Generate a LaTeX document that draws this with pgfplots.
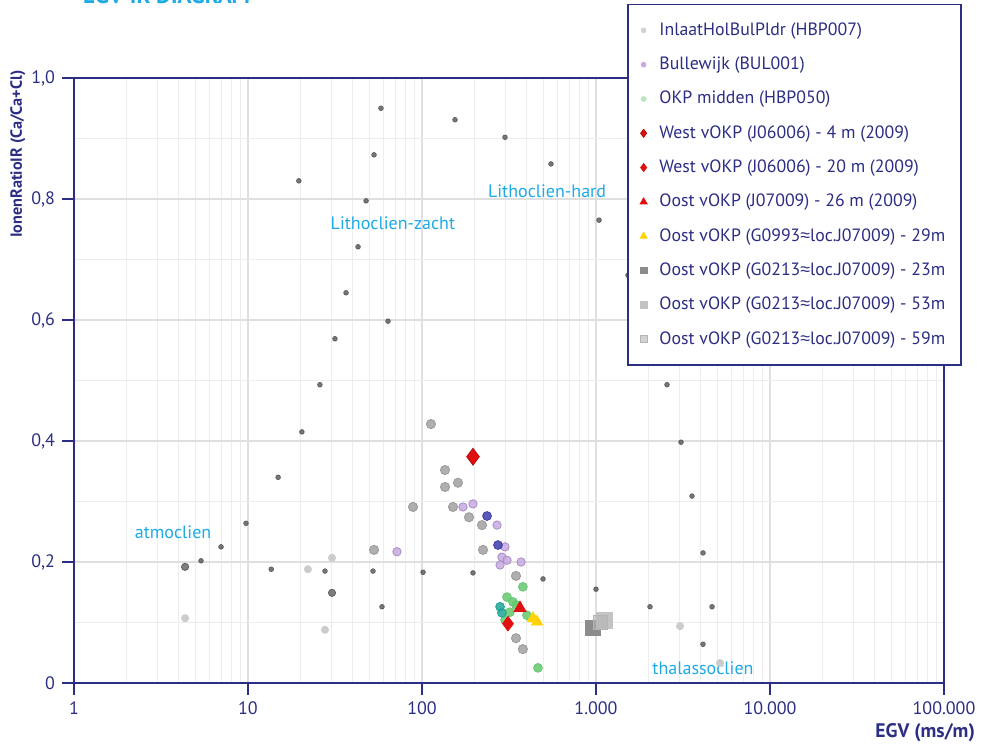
\documentclass[border=0pt]{standalone}
\usepackage{fontspec}
\setmainfont{PT Sans}
\newfontfamily\symfont{Liberation Sans}
\usepackage{pgfplots}
\pgfplotsset{compat=1.18}
\definecolor{navy}{RGB}{43,46,131}
\definecolor{cyantext}{RGB}{30,170,231}
\definecolor{refdot}{RGB}{95,95,95}
\definecolor{hbpgray}{RGB}{155,155,155}
\definecolor{lilac}{RGB}{200,170,222}
\definecolor{lilacdraw}{RGB}{170,140,205}
\definecolor{okpgreen}{RGB}{100,200,110}
\definecolor{tealc}{RGB}{30,165,150}
\definecolor{bluec}{RGB}{60,60,170}
\definecolor{redc}{RGB}{225,15,15}
\definecolor{yellowc}{RGB}{255,210,0}
\definecolor{sqdark}{RGB}{140,140,140}
\definecolor{sqlight}{RGB}{195,195,195}
\definecolor{sqmid}{RGB}{180,180,180}
\begin{document}
\begin{tikzpicture}
\begin{axis}[name=ax, at={(0,0)}, anchor=south west,
  scale only axis, width=435pt, height=302.5pt,
  xmode=log, log basis x=10, xmin=1, xmax=100000, ymin=0, ymax=1,
  xtick={1,10,100,1000,10000,100000},
  xticklabels={1,10,100,1.000,10.000,100.000},
  minor xtick={2,3,4,5,6,7,8,9,20,30,40,50,60,70,80,90,200,300,400,500,600,700,800,900,2000,3000,4000,5000,6000,7000,8000,9000,20000,30000,40000,50000,60000,70000,80000,90000},
  ytick={0,0.2,0.4,0.6,0.8,1},
  yticklabels={0,{0,2},{0,4},{0,6},{0,8},{1,0}},
  minor ytick={0.1,0.3,0.5,0.7,0.9},
  grid=both,
  major grid style={gray!25, line width=0.6pt},
  minor grid style={gray!14, line width=0.4pt},
  axis line style={navy, line width=0.8pt},
  major tick style={navy, line width=0.8pt},
  major tick length=6pt, minor tick length=0pt,
  tick align=outside, xtick pos=bottom, ytick pos=left,
  ticklabel style={font=\fontsize{9}{10}\selectfont, text=navy},
  /pgf/number format/assume math mode=true,
  xlabel={EGV (ms/m)},
  xlabel style={at={(axis description cs:1,0)}, anchor=east, xshift=19pt, yshift=-25pt, font=\bfseries\fontsize{9.8}{11}\selectfont, text=navy},
  ylabel={IonenRatioIR (Ca/Ca+Cl)},
  ylabel style={at={(axis description cs:-0.0644,1.024)}, anchor=east, font=\bfseries\fontsize{8.1}{10}\selectfont, text=navy},
  legend cell align=left,
  legend style={at={(axis description cs:1.0207,1.123)}, anchor=north east,
    draw=navy, line width=0.8pt, fill=white, text=navy,
    font=\fontsize{8.9}{10}\selectfont,
    nodes={inner sep=2pt, text height=7pt, text depth=2pt},
    row sep=4.15pt, inner xsep=6pt, inner ysep=6.5pt},
  legend image code/.code={\draw[#1, line width=0.4pt] plot coordinates {(0cm,0cm)}; \path (0pt,0pt) (5.5pt,0pt);},
]
% reference background samples
\addplot[only marks, color=refdot, mark=*, mark size=1.15pt, mark options={draw=none, fill=refdot, fill opacity=0.85}, forget plot] table {
x y
58.1 0.950
154.8 0.931
299.9 0.902
53.0 0.873
551 0.858
19.6 0.830
47.7 0.797
1041 0.765
42.9 0.721
36.6 0.645
63.8 0.598
31.6 0.569
1527 0.674
25.9 0.493
20.4 0.415
14.9 0.340
9.74 0.264
7.0 0.225
5.37 0.202
13.6 0.188
27.7 0.185
52.3 0.185
58.9 0.126
101.4 0.183
196.4 0.182
496 0.172
1000 0.155
2043 0.126
2559 0.493
3081 0.398
3563 0.309
4121 0.215
4645 0.126
4121 0.064
};
\addplot[only marks, color=refdot, mark=*, mark size=1.8pt, mark options={draw=none, fill=refdot, fill opacity=0.8}, forget plot] table {
x y
4.35 0.192
30.4 0.149
};
% light background samples
\addplot[only marks, color=gray!40, mark=*, mark size=1.8pt, mark options={draw=none, fill=gray!40}, forget plot] table {
x y
22.1 0.188
30.4 0.207
4.35 0.107
27.7 0.088
3040 0.094
5162 0.033
};
% 1 InlaatHolBulPldr
\addplot[only marks, color=hbpgray, mark=*, mark size=2.3pt, mark options={draw=gray!80, fill=hbpgray, fill opacity=0.8},
  legend image post style={mark size=1.2pt, mark options={draw=gray!35, fill=gray!35}}] table {
x y
112.6 0.428
135.6 0.352
135.6 0.324
161 0.331
88.8 0.291
150.7 0.291
186.3 0.274
221.2 0.261
224.3 0.220
53.0 0.220
347 0.177
347 0.074
380 0.056
};
\addlegendentry{InlaatHolBulPldr (HBP007)}
% 2 Bullewijk
\addplot[only marks, color=lilac, mark=*, mark size=2.1pt, mark options={draw=lilacdraw, fill=lilac, fill opacity=0.85},
  legend image post style={mark size=1.2pt, mark options={draw=lilac, fill=lilac}}] table {
x y
71.8 0.217
172 0.291
196.4 0.296
270 0.261
300 0.225
288 0.208
308 0.203
371 0.200
281 0.195
};
\addlegendentry{Bullewijk (BUL001)}
% 3 OKP midden
\addplot[only marks, color=okpgreen, mark=*, mark size=2.2pt, mark options={draw=none, fill=okpgreen, fill opacity=0.85},
  legend image post style={mark size=1.2pt, mark options={draw=okpgreen!45, fill=okpgreen!45}}] table {
x y
380 0.159
308 0.142
333 0.134
320 0.117
300 0.104
401 0.112
347 0.129
464 0.025
};
\addlegendentry{OKP midden (HBP050)}
% 4 West 4 m
\addplot[only marks, color=redc, mark=diamond*, mark size=4.2pt, mark options={draw=redc!80!black, fill=redc},
  legend image post style={mark size=2pt}] table {
x y
196.4 0.374
};
\addlegendentry{West vOKP (J06006) - 4 m (2009)}
% 5 West 20 m
\addplot[only marks, color=redc, mark=diamond*, mark size=3.6pt, mark options={draw=redc, fill=redc},
  legend image post style={mark size=2pt}] table {
x y
312 0.098
};
\addlegendentry{West vOKP (J06006) - 20 m (2009)}
% 6 Oost 26 m
\addplot[only marks, color=redc, mark=triangle*, mark size=3.4pt, mark options={draw=redc, fill=redc},
  legend image post style={mark size=2pt}] table {
x y
366 0.124
};
\addlegendentry{Oost vOKP (J07009) - 26 m (2009)}
% 7 G0993 29 m
\addplot[only marks, color=yellowc, mark=triangle*, mark size=3.2pt, mark options={draw=yellowc, fill=yellowc},
  legend image post style={mark size=2pt}] table {
x y
434 0.107
458 0.101
};
\addlegendentry{Oost vOKP (G0993{\symfont ≈}loc.J07009) - 29m}
% 8 G0213 23 m
\addplot[only marks, color=sqdark, mark=square*, mark size=3.6pt, mark options={draw=sqdark, fill=sqdark},
  legend image post style={mark size=1.7pt}] table {
x y
961 0.091
};
\addlegendentry{Oost vOKP (G0213{\symfont ≈}loc.J07009) - 23m}
% 9 53 m
\addplot[only marks, color=sqlight, mark=square*, mark size=4pt, mark options={draw=sqlight, fill=sqlight},
  legend image post style={mark size=1.7pt}] table {
x y
1112 0.104
};
\addlegendentry{Oost vOKP (G0213{\symfont ≈}loc.J07009) - 53m}
% 10 59 m
\addplot[only marks, color=sqmid, mark=square*, mark size=3.6pt, mark options={draw=none, fill=sqmid, fill opacity=0.6},
  legend image post style={mark size=1.7pt}] table {
x y
1060 0.100
};
\addlegendentry{Oost vOKP (G0213{\symfont ≈}loc.J07009) - 59m}
% extra coloured points (overlaps)
\addplot[only marks, color=bluec, mark=*, mark size=2.2pt, mark options={draw=none, fill=bluec, fill opacity=0.85}, forget plot] table {
x y
236.5 0.276
273.4 0.228
};
\addplot[only marks, color=tealc, mark=*, mark size=2.2pt, mark options={draw=none, fill=tealc, fill opacity=0.85}, forget plot] table {
x y
281 0.126
288 0.116
};
% region labels
\node[text=cyantext, font=\fontsize{9}{10}\selectfont] at (axis cs:68.1,0.760) {Lithoclien-zacht};
\node[text=cyantext, font=\fontsize{9}{10}\selectfont] at (axis cs:523,0.813) {Lithoclien-hard};
\node[text=cyantext, font=\fontsize{9}{10}\selectfont] at (axis cs:3.71,0.250) {atmoclien};
\node[text=cyantext, font=\fontsize{9}{10}\selectfont] at (axis cs:4121,0.025) {thalassoclien};
\end{axis}
\node[anchor=base west, text=cyantext, font=\bfseries\fontsize{11.5}{12}\selectfont] at ([shift={(1pt,339.5pt)}]ax.south west) {EGV-IR DIAGRAM};
\pgfresetboundingbox
\path[use as bounding box] ([shift={(-37pt,-30.5pt)}]ax.south west) rectangle ([shift={(456.5pt,341.5pt)}]ax.south west);
\end{tikzpicture}
\end{document}
